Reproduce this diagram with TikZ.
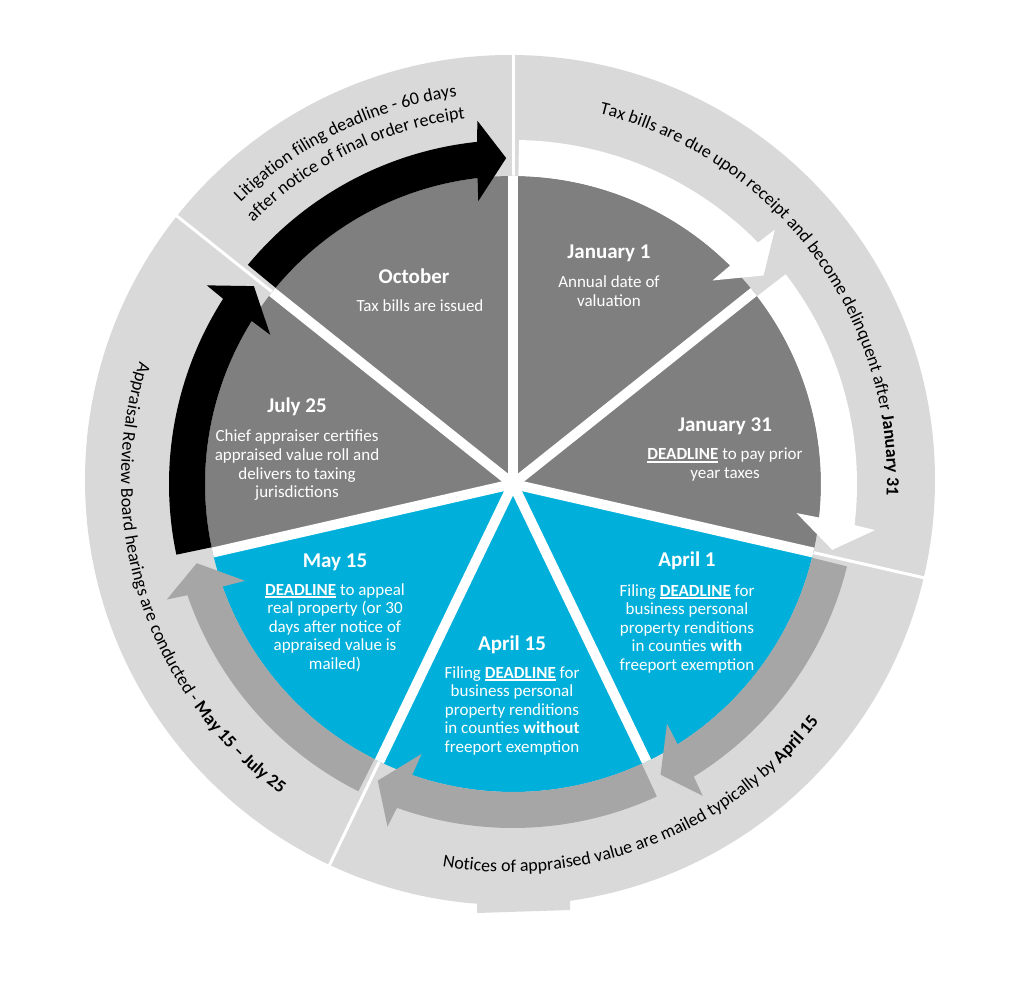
\documentclass[tikz,border=0pt]{standalone}
\usepackage{fontspec}
\setmainfont{Carlito}
\usetikzlibrary{decorations.text,calc}
\definecolor{ringgray}{HTML}{D9D9D9}
\definecolor{wedgegray}{HTML}{7F7F7F}
\definecolor{wedgeblue}{RGB}{0,176,218}
\definecolor{arrowgray}{HTML}{A6A6A6}
\newcommand\dl{\setbox0\hbox{\bfseries DEADLINE}\rlap{\rule[-2.6pt]{\wd0}{1.3pt}}\box0}
\newcommand\drawwedge[3]{\fill[#1] (0,0) -- (#2:308) arc[start angle=#2,end angle=#3,radius=308] -- cycle;}
\newcommand\drawcarrow[3]{%
  \pgfmathsetmacro\csa{#2-1.0}%
  \pgfmathsetmacro\cei{#3+6.6}%
  \pgfmathsetmacro\ceo{#3+6.0}%
  \pgfmathsetmacro\cbi{#3+7.0}%
  \pgfmathsetmacro\cbo{#3+5.6}%
  \pgfmathsetmacro\ctp{#3+1.2}%
  \fill[#1] (\csa:308) arc[start angle=\csa,end angle=\cei,radius=308]
    -- (\cbi:285) -- (\ctp:326) -- (\cbo:365) -- (\ceo:344)
    arc[start angle=\ceo,end angle=\csa,radius=344] -- cycle;}
\begin{document}
\begin{tikzpicture}[x=1pt,y=1pt,
  title/.style={text=white,font=\fontsize{21}{25}\selectfont\bfseries,anchor=base,inner sep=0pt},
  body/.style={text=white,font=\fontsize{17}{18.6}\selectfont,align=center,anchor=base,inner sep=0pt},
  sep/.style={white,line width=3pt},
  gap/.style={white,line width=10pt}]
\fill[white] (-513,-503) rectangle (511,484);
\useasboundingbox (-513,-503) rectangle (511,484);
\coordinate (O) at (-3,4);
% outer ring
\fill[ringgray] (O) circle[radius=425];
\fill[ringgray] (-36,-416) -- (-36,-429) -- (57,-426) -- (57,-416) -- cycle;
\foreach \a in {90,141.429,-115.714,-12.857} \draw[sep] (0,0) -- (\a:432);
% wedges
\drawwedge{wedgegray}{90}{38.571}
\drawwedge{wedgegray}{38.571}{-12.857}
\drawwedge{wedgeblue}{-12.857}{-64.286}
\drawwedge{wedgeblue}{-64.286}{-115.714}
\drawwedge{wedgeblue}{-115.714}{-167.143}
\drawwedge{wedgegray}{-167.143}{-218.571}
\drawwedge{wedgegray}{-218.571}{-270}
\foreach \a in {90,38.571,-12.857,-64.286,-115.714,-167.143,-218.571} \draw[gap] (0,0) -- (\a:308);
% circular arrows
\drawcarrow{white}{90}{38.571}
\drawcarrow{white}{38.571}{-12.857}
\drawcarrow{arrowgray}{-12.857}{-64.286}
\drawcarrow{arrowgray}{-64.286}{-115.714}
\drawcarrow{arrowgray}{-115.714}{-167.143}
\drawcarrow{black}{-167.143}{-218.571}
\drawcarrow{black}{-218.571}{-270}
% wedge texts (body anchor = baseline of last line)
\node[title] (octt) at (-99,200) {October};
\node[body] (octb) at (-93,172) {Tax bills are issued};
\node[title] (jan1t) at (96,225) {January 1};
\node[body] (jan1b) at (96,177.4) {Annual date of\\valuation};
\node[title] (jan31t) at (212,52) {January 31};
\node[body] (jan31b) at (212,5.4) {\dl{} to pay prior\\year taxes};
\node[title] (apr1t) at (174,-82) {April 1};
\node[body] (apr1b) at (174,-186.4) {Filing \dl{} for\\business personal\\property renditions\\in counties \textbf{with}\\freeport exemption};
\node[title] (apr15t) at (-1,-166) {April 15};
\node[body] (apr15b) at (-1,-268.4) {Filing \dl{} for\\business personal\\property renditions\\in counties \textbf{without}\\freeport exemption};
\node[title] (may15t) at (-178,-83) {May 15};
\node[body] (may15b) at (-178,-185.4) {\dl{} to appeal\\real property (or 30\\days after notice of\\appraised value is\\mailed)};
\node[title] (jul25t) at (-216,71) {July 25};
\node[body] (jul25b) at (-216,-13.8) {Chief appraiser certifies\\appraised value roll and\\delivers to taxing\\jurisdictions};
% outer ring texts
\path[decorate,decoration={text along path,text align=center,
  text={|\fontsize{18}{21}\selectfont|Tax bills are due upon receipt and become delinquent after |\fontsize{18}{21}\selectfont\bfseries|January 31}}]
  ($(O)+(80:377)$) arc[start angle=80,end angle=-6,radius=377];
\path[decorate,decoration={text along path,text align=center,
  text={|\fontsize{18}{21}\selectfont|Litigation filing deadline - 60 days}}]
  ($(O)+(146:387)$) arc[start angle=146,end angle=86,radius=387];
\path[decorate,decoration={text along path,text align=center,
  text={|\fontsize{18}{21}\selectfont|after notice of final order receipt}}]
  ($(O)+(146:364)$) arc[start angle=146,end angle=86,radius=364];
\path[decorate,decoration={text along path,text align=center,
  text={|\fontsize{18}{21}\selectfont|Appraisal Review Board hearings are conducted - |\fontsize{18}{21}\selectfont\bfseries|May 15 – July 25}}]
  ($(O)+(150:389)$) arc[start angle=150,end angle=246,radius=389];
\path[decorate,decoration={text along path,text align=center,
  text={|\fontsize{18}{21}\selectfont|Notices of appraised value are mailed typically by |\fontsize{18}{21}\selectfont\bfseries|April 15}}]
  ($(O)+(250:392)$) arc[start angle=250,end angle=332,radius=392];
\end{tikzpicture}
\end{document}
